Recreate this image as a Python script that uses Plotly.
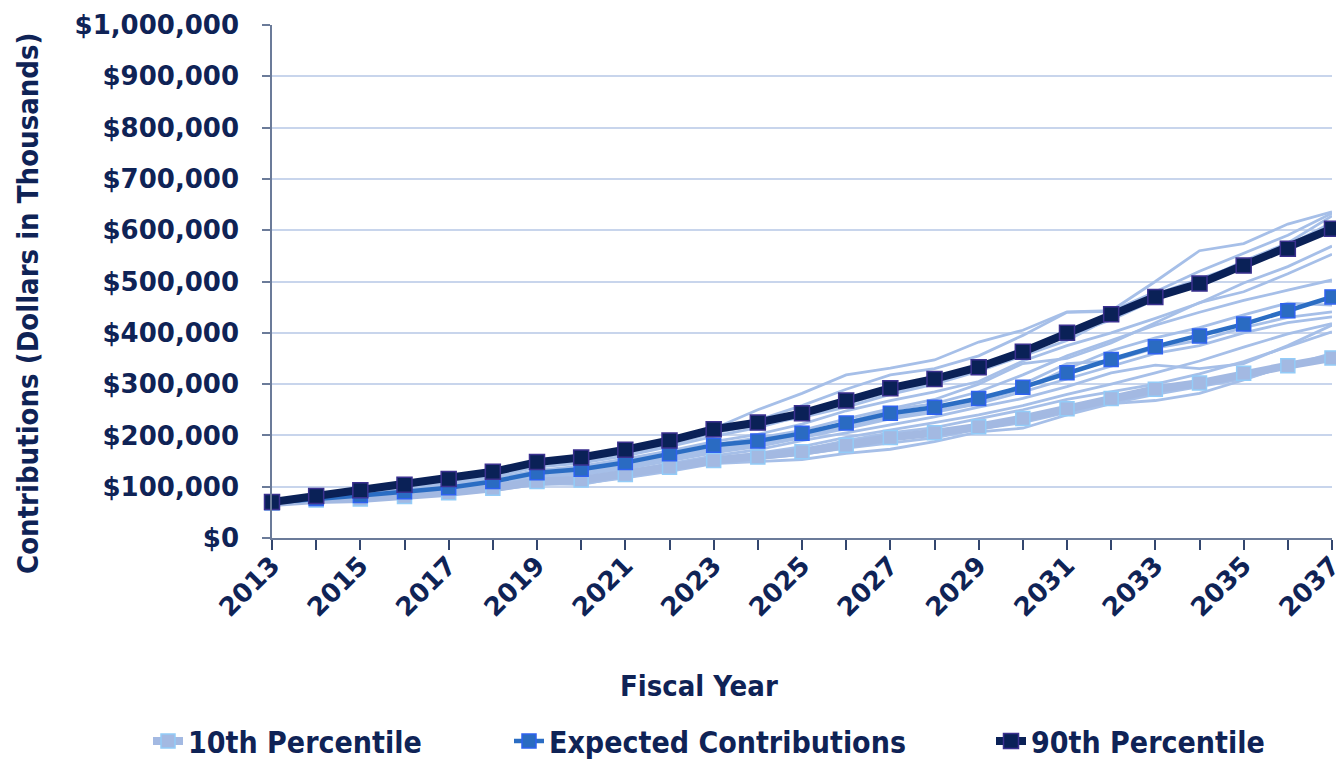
import plotly.graph_objects as go

# Fiscal years on the x axis
years = list(range(2013, 2038))

# Contributions (dollars in thousands)
pct10 = [68000, 74000, 76000, 81000, 88000, 97000, 110000, 113000, 124000, 138000,
         151000, 158000, 168000, 181000, 196000, 205000, 217000, 233000, 252000, 272000,
         290000, 302000, 321000, 336000, 351000]
expected = [69000, 77000, 83000, 90000, 98000, 110000, 127000, 134000, 147000, 164000,
            181000, 189000, 204000, 224000, 243000, 255000, 272000, 294000, 322000, 348000,
            373000, 394000, 417000, 443000, 470000]
pct90 = [70000, 82000, 93000, 104000, 115000, 129000, 148000, 157000, 172000, 190000,
         212000, 225000, 243000, 268000, 292000, 310000, 333000, 363000, 400000, 436000,
         470000, 496000, 531000, 564000, 603000]

# Individual simulated contribution paths
scenario_01 = [70000, 80000, 90000, 100000, 111000, 124000, 142000, 152000, 166000, 186000,
               213000, 250000, 282000, 318000, 331000, 347000, 382000, 405000, 441000, 443000,
               500000, 560000, 574000, 612000, 636000]
scenario_02 = [70000, 81000, 91000, 102000, 113000, 127000, 145000, 155000, 170000, 188000,
               208000, 230000, 258000, 290000, 318000, 330000, 355000, 395000, 440000, 442000,
               480000, 520000, 555000, 590000, 633000]
scenario_03 = [69000, 78000, 88000, 98000, 108000, 120000, 138000, 146000, 160000, 178000,
               198000, 215000, 238000, 262000, 285000, 305000, 330000, 370000, 395000, 425000,
               465000, 500000, 540000, 575000, 628000]
scenario_04 = [70000, 80000, 89000, 99000, 110000, 123000, 140000, 150000, 165000, 182000,
               205000, 220000, 235000, 255000, 280000, 300000, 325000, 355000, 385000, 430000,
               475000, 505000, 535000, 570000, 615000]
scenario_05 = [69000, 77000, 86000, 95000, 104000, 116000, 132000, 140000, 154000, 170000,
               188000, 202000, 222000, 248000, 268000, 285000, 305000, 345000, 375000, 400000,
               428000, 458000, 497000, 529000, 569000]
scenario_06 = [69000, 76000, 84000, 92000, 101000, 113000, 129000, 137000, 150000, 166000,
               182000, 195000, 210000, 232000, 252000, 270000, 300000, 340000, 350000, 380000,
               420000, 459000, 480000, 515000, 553000]
scenario_07 = [69000, 76000, 83000, 91000, 99000, 110000, 125000, 132000, 145000, 160000,
               178000, 190000, 205000, 225000, 250000, 262000, 285000, 318000, 355000, 385000,
               415000, 440000, 463000, 483000, 503000]
scenario_08 = [68000, 75000, 82000, 89000, 97000, 108000, 122000, 130000, 142000, 158000,
               174000, 185000, 200000, 215000, 236000, 250000, 268000, 290000, 330000, 365000,
               390000, 410000, 435000, 458000, 454000]
scenario_09 = [68000, 75000, 81000, 88000, 96000, 106000, 120000, 127000, 139000, 154000,
               170000, 182000, 198000, 218000, 240000, 248000, 262000, 300000, 340000, 345000,
               370000, 385000, 410000, 430000, 441000]
scenario_10 = [68000, 74000, 80000, 86000, 94000, 104000, 118000, 123000, 135000, 150000,
               166000, 178000, 195000, 213000, 232000, 245000, 262000, 285000, 310000, 335000,
               360000, 375000, 400000, 420000, 431000]
scenario_11 = [68000, 74000, 79000, 85000, 92000, 101000, 115000, 118000, 130000, 145000,
               160000, 172000, 190000, 205000, 220000, 236000, 255000, 272000, 295000, 322000,
               337000, 330000, 340000, 375000, 415000]
scenario_12 = [67000, 73000, 78000, 83000, 90000, 99000, 112000, 110000, 124000, 140000,
               155000, 165000, 178000, 196000, 210000, 225000, 240000, 258000, 280000, 300000,
               322000, 345000, 372000, 398000, 418000]
scenario_13 = [67000, 72000, 77000, 82000, 89000, 97000, 108000, 104000, 120000, 135000,
               150000, 160000, 172000, 190000, 205000, 215000, 232000, 250000, 270000, 285000,
               300000, 320000, 344000, 373000, 402000]
scenario_14 = [67000, 72000, 76000, 80000, 86000, 95000, 106000, 108000, 118000, 132000,
               147000, 155000, 163000, 175000, 185000, 195000, 212000, 225000, 245000, 262000,
               280000, 295000, 310000, 335000, 360000]
scenario_15 = [67000, 71000, 75000, 79000, 85000, 93000, 104000, 106000, 117000, 130000,
               145000, 149000, 153000, 165000, 173000, 188000, 207000, 214000, 240000, 262000,
               268000, 282000, 308000, 337000, 352000]

scenarios = [scenario_01, scenario_02, scenario_03, scenario_04, scenario_05,
             scenario_06, scenario_07, scenario_08, scenario_09, scenario_10,
             scenario_11, scenario_12, scenario_13, scenario_14, scenario_15]

year_ticks = list(range(2013, 2038, 2))
value_ticks = list(range(0, 1000001, 100000))

NAVY = "#0F2356"
TICK_FONT = dict(family="DejaVu Sans", size=26, color=NAVY, weight="bold")
LABEL_FONT = dict(family="DejaVu Sans Condensed, DejaVu Sans", size=29, color=NAVY,
                  weight="bold")
LEGEND_FONT = dict(family="DejaVu Sans Condensed, DejaVu Sans", size=30, color=NAVY,
                   weight="bold")

fig = go.Figure()

for path in scenarios:
    fig.add_trace(go.Scatter(
        x=years, y=path, mode="lines",
        line=dict(color="#A6BFE8", width=2.8),
        showlegend=False, hoverinfo="skip", cliponaxis=False,
    ))

fig.add_trace(go.Scatter(
    x=years, y=pct10, mode="lines+markers", name="10th Percentile",
    line=dict(color="#A3B9E2", width=8),
    marker=dict(symbol="square", size=14, color="#A3B9E2",
                line=dict(color="#93CCF8", width=1.5)),
    cliponaxis=False, legend="legend",
))
fig.add_trace(go.Scatter(
    x=years, y=expected, mode="lines+markers", name="Expected Contributions",
    line=dict(color="#2B6DC3", width=4.5),
    marker=dict(symbol="square", size=14, color="#2A6BC2",
                line=dict(color="#2F62F0", width=1.5)),
    cliponaxis=False, legend="legend2",
))
fig.add_trace(go.Scatter(
    x=years, y=pct90, mode="lines+markers", name="90th Percentile",
    line=dict(color="#0A2157", width=8),
    marker=dict(symbol="square", size=15, color="#0A2157",
                line=dict(color="#3B3190", width=1.5)),
    cliponaxis=False, legend="legend3",
))

PLOT_LEFT, PLOT_W = 272, 1060
PLOT_BOTTOM, PLOT_H = 538, 513


def legend_box(px_left):
    return dict(
        orientation="h", x=(px_left - PLOT_LEFT) / PLOT_W, xanchor="left",
        y=(PLOT_BOTTOM - 741) / PLOT_H, yanchor="middle", font=LEGEND_FONT,
        itemwidth=30, bgcolor="rgba(0,0,0,0)", borderwidth=0,
    )


fig.update_layout(
    width=1336, height=760,
    margin=dict(l=272, r=4, t=25, b=222, autoexpand=False),
    plot_bgcolor="white", paper_bgcolor="white",
    showlegend=True,
    legend=legend_box(148),
    legend2=legend_box(509),
    legend3=legend_box(991),
    xaxis=dict(
        range=[2013, 2037], tickmode="array", tickvals=year_ticks,
        ticktext=[str(y) for y in year_ticks], tickangle=-45,
        tickfont=TICK_FONT, ticks="outside", ticklen=10, tickwidth=1.5,
        tickcolor="#33466E", ticklabelstandoff=-10, ticklabeloverflow="allow",
        minor=dict(tickmode="array", tickvals=years, ticks="outside", ticklen=10,
                   tickwidth=1.5, tickcolor="#33466E", showgrid=False),
        showline=True, linecolor="#6B7B99", linewidth=1.5,
        showgrid=False, zeroline=False, automargin=False,
    ),
    yaxis=dict(
        range=[0, 1000000], tickmode="array", tickvals=value_ticks,
        tickformat="$,.0f", tickfont=TICK_FONT, ticks="outside", ticklen=8,
        tickwidth=1.5, tickcolor="#6B7B99", ticklabelstandoff=18,
        showline=True, linecolor="#6B7B99", linewidth=1.5,
        showgrid=True, gridcolor="#C8D5EC", gridwidth=1.5,
        zeroline=False, automargin=False,
    ),
    annotations=[
        dict(text="Contributions (Dollars in Thousands)", textangle=-90,
             xref="paper", yref="paper", x=(28 - PLOT_LEFT) / PLOT_W,
             y=(PLOT_BOTTOM - 303) / PLOT_H,
             xanchor="center", yanchor="middle", showarrow=False, font=LABEL_FONT),
        dict(text="Fiscal Year", xref="paper", yref="paper",
             x=(699 - PLOT_LEFT) / PLOT_W, y=(PLOT_BOTTOM - 686) / PLOT_H,
             xanchor="center", yanchor="middle", showarrow=False, font=LABEL_FONT),
    ],
)

fig.write_html("out.html")
